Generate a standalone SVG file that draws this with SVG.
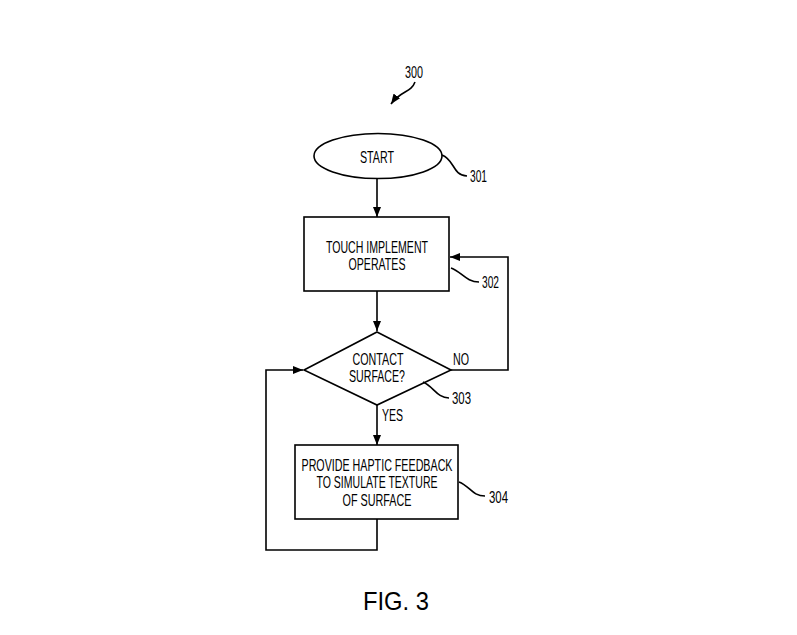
<svg xmlns="http://www.w3.org/2000/svg" width="797" height="635" viewBox="0 0 797 635">
<style>
.s{fill:none;stroke:#000;stroke-width:1.6}
.n{fill:#fff;stroke:#000;stroke-width:1.6}
.t{font-family:"Liberation Sans",Arial,sans-serif;font-size:16.5px;fill:#000;text-anchor:middle}
.l{font-family:"Liberation Sans",Arial,sans-serif;font-size:16px;fill:#000}
</style>
<defs>
<marker id="ah" viewBox="0 0 10 8" refX="10" refY="4" markerWidth="10" markerHeight="8" markerUnits="userSpaceOnUse" orient="auto">
<path d="M0,0 L10,4 L0,8 Z" fill="#000"/>
</marker>
</defs>
<rect width="797" height="635" fill="#fff"/>
<g id="connectors">
<path class="s" d="M377,178 V217" marker-end="url(#ah)"/>
<path class="s" d="M377,291 V331" marker-end="url(#ah)"/>
<path class="s" d="M451,370 H508 V257 H450" marker-end="url(#ah)"/>
<path class="s" d="M377,405 V445" marker-end="url(#ah)"/>
<path class="s" d="M377,519 V550 H266 V370 H303" marker-end="url(#ah)"/>
</g>
<g id="n300">
<text class="l" x="405" y="78" textLength="18" lengthAdjust="spacingAndGlyphs">300</text>
<path class="s" d="M415,82 C411,93 401,90 391,104" marker-end="url(#ah)"/>
</g>
<g id="n301">
<ellipse class="n" cx="378" cy="156" rx="64" ry="22.5"/>
<text class="t" x="377" y="163" textLength="34" lengthAdjust="spacingAndGlyphs">START</text>
<path class="s" d="M442,155 C455,160 452,175 467,176"/>
<text class="l" x="470" y="182" textLength="17" lengthAdjust="spacingAndGlyphs">301</text>
</g>
<g id="n302">
<rect class="n" x="304" y="217" width="145" height="74"/>
<text class="t" x="377" y="253" textLength="102" lengthAdjust="spacingAndGlyphs">TOUCH IMPLEMENT</text>
<text class="t" x="377" y="270" textLength="57" lengthAdjust="spacingAndGlyphs">OPERATES</text>
<path class="s" d="M451,268 C462,272 466,282 479,282"/>
<text class="l" x="482" y="288" textLength="17" lengthAdjust="spacingAndGlyphs">302</text>
</g>
<g id="n303">
<path class="n" d="M377,332 L451,370 L377,405 L304,370 Z"/>
<text class="t" x="378" y="365" textLength="51" lengthAdjust="spacingAndGlyphs">CONTACT</text>
<text class="t" x="377" y="382" textLength="56" lengthAdjust="spacingAndGlyphs">SURFACE?</text>
<text class="l" x="453" y="365" textLength="16" lengthAdjust="spacingAndGlyphs">NO</text>
<text class="l" x="382" y="421" textLength="21" lengthAdjust="spacingAndGlyphs">YES</text>
<path class="s" d="M423,382 C433,386 437,398 449,398"/>
<text class="l" x="452" y="404" textLength="19" lengthAdjust="spacingAndGlyphs">303</text>
</g>
<g id="n304">
<rect class="n" x="295" y="445" width="163" height="74"/>
<text class="t" x="377" y="471" textLength="151" lengthAdjust="spacingAndGlyphs">PROVIDE HAPTIC FEEDBACK</text>
<text class="t" x="377" y="488" textLength="121" lengthAdjust="spacingAndGlyphs">TO SIMULATE TEXTURE</text>
<text class="t" x="377" y="506" textLength="69" lengthAdjust="spacingAndGlyphs">OF SURFACE</text>
<path class="s" d="M459,482 C470,486 472,496 485,496"/>
<text class="l" x="489" y="503" textLength="19" lengthAdjust="spacingAndGlyphs">304</text>
</g>
<text class="l" x="363" y="610" style="font-size:26px" textLength="66" lengthAdjust="spacingAndGlyphs">FIG. 3</text>
</svg>
